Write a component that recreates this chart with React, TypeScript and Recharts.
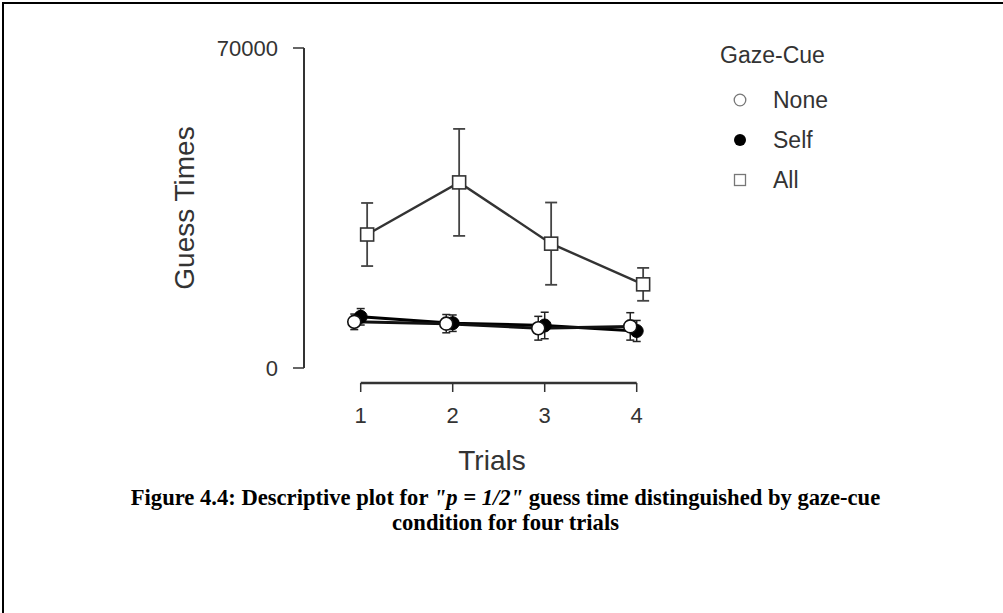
import { ComposedChart, ErrorBar, Legend, Line, ReferenceLine, XAxis, YAxis } from "recharts";

const trials = [1, 2, 3, 4];
const yTicks = [0, 70000];

// mean guess time per trial and the half-width of its interval
const noneMeans = [10100, 9700, 8700, 9100];
const noneErrors = [1700, 2000, 2600, 3000];
const selfMeans = [11200, 9800, 9300, 8100];
const selfErrors = [1800, 1800, 2900, 2300];
const allMeans = [29200, 40600, 27200, 18300];
const allErrors = [6900, 11700, 9000, 3600];

// groups are nudged sideways around each trial so their markers don't overlap
const DODGE = 0.07;
const toPoints = (means: number[], errors: number[], shift: number) =>
  trials.map((trial, i) => ({ x: trial + shift, y: means[i], err: errors[i] }));

const noneData = toPoints(noneMeans, noneErrors, -DODGE);
const selfData = toPoints(selfMeans, selfErrors, 0);
const allData = toPoints(allMeans, allErrors, DODGE);

const SANS = "'Liberation Sans', Arial, sans-serif";
const AXIS = "#333";
const AXIS_DROP = 15; // the trial axis sits a little below the zero line
const PX_PER_TRIAL = 92;
// gap between the value axis and trial 1, and room right of trial 4
const GAP_LEFT = 56.7;
const GAP_RIGHT = 43.3;

type DotProps = { cx?: number; cy?: number; index?: number };

const OpenCircle = ({ cx, cy, index }: DotProps) =>
  cx == null || cy == null ? null : (
    <circle key={`n${index}`} cx={cx} cy={cy} r={6.5} fill="#fff" stroke="#111" strokeWidth={1.6} />
  );

const FilledCircle = ({ cx, cy, index }: DotProps) =>
  cx == null || cy == null ? null : (
    <circle key={`s${index}`} cx={cx} cy={cy} r={6.5} fill="#000" stroke="#000" strokeWidth={1} />
  );

const OpenSquare = ({ cx, cy, index }: DotProps) =>
  cx == null || cy == null ? null : (
    <rect key={`a${index}`} x={cx - 6.5} y={cy - 6.5} width={13} height={13} fill="#fff" stroke="#333" strokeWidth={1.6} />
  );

const TrialTick = ({ x, y, payload }: { x: number; y: number; payload: { value: number } }) => (
  <g>
    <line x1={x} x2={x} y1={y + AXIS_DROP} y2={y + AXIS_DROP + 9} stroke={AXIS} strokeWidth={1.5} />
    <text x={x} y={y + 55} textAnchor="middle" fontSize={22} fill="#333" fontFamily={SANS}>
      {payload.value}
    </text>
  </g>
);

const DroppedAxisLine = (props: { x1?: number; x2?: number; y1?: number }) => {
  const { x1 = 0, x2 = 0, y1 = 0 } = props;
  return <line x1={x1} x2={x2} y1={y1 + AXIS_DROP} y2={y1 + AXIS_DROP} stroke={AXIS} strokeWidth={2.6} />;
};

const legendRows = [
  { label: "None", symbol: <circle cx={7} cy={7} r={5.8} fill="#fff" stroke="#777" strokeWidth={1.3} /> },
  { label: "Self", symbol: <circle cx={7} cy={7} r={6} fill="#000" /> },
  { label: "All", symbol: <rect x={1.5} y={1.5} width={11} height={11} fill="#fff" stroke="#777" strokeWidth={1.3} /> },
];

function GazeLegend() {
  return (
    <div style={{ fontFamily: SANS, color: "#333" }}>
      <div style={{ height: 30, lineHeight: "30px", fontSize: 23, marginBottom: 10 }}>Gaze-Cue</div>
      {legendRows.map((row) => (
        <div key={row.label} style={{ height: 40, display: "flex", alignItems: "center" }}>
          <svg width={14} height={14} style={{ marginLeft: 13, marginRight: 26 }}>
            {row.symbol}
          </svg>
          <span style={{ fontSize: 23 }}>{row.label}</span>
        </div>
      ))}
    </div>
  );
}

export default function App() {
  const xMin = trials[0] - DODGE;
  const xMax = trials[trials.length - 1] + DODGE;
  return (
    <div style={{ position: "absolute", left: 0, top: 0, width: 1003, height: 613, background: "#fff" }}>
      <div
        style={{
          position: "absolute",
          left: 2,
          top: 2,
          right: 0,
          bottom: 0,
          borderTop: "2px solid #000",
          borderLeft: "2px solid #000",
        }}
      />
      <ComposedChart width={1003} height={490} margin={{ top: 48, right: 323, bottom: 7, left: 164 }}>
        <XAxis
          dataKey="x"
          type="number"
          domain={[xMin, xMax]}
          ticks={trials}
          padding={{ left: GAP_LEFT - DODGE * PX_PER_TRIAL, right: GAP_RIGHT - DODGE * PX_PER_TRIAL }}
          height={115}
          axisLine={false}
          tickLine={false}
          tickSize={0}
          tickMargin={0}
          tick={TrialTick}
          label={{ value: "Trials", position: "insideTop", offset: 82, fontSize: 28, fill: "#333", fontFamily: SANS }}
        />
        <YAxis
          type="number"
          domain={[0, 70000]}
          ticks={yTicks}
          width={140}
          axisLine={{ stroke: AXIS, strokeWidth: 2 }}
          tickLine={{ stroke: AXIS, strokeWidth: 1.5 }}
          tickSize={11}
          tickMargin={15}
          tick={{ fontSize: 22, fill: "#333", fontFamily: SANS }}
          label={{
            value: "Guess Times",
            angle: -90,
            position: "insideLeft",
            offset: 20,
            fontSize: 28,
            fill: "#333",
            fontFamily: SANS,
            style: { textAnchor: "middle" },
          }}
        />
        <ReferenceLine
          segment={[
            { x: trials[0], y: 0 },
            { x: trials[trials.length - 1], y: 0 },
          ]}
          shape={DroppedAxisLine}
        />
        <Legend
          layout="vertical"
          align="center"
          verticalAlign="middle"
          content={() => <GazeLegend />}
          wrapperStyle={{ position: "absolute", left: 720, top: 40, width: 160 }}
        />
        <Line
          data={allData}
          dataKey="y"
          name="All"
          stroke="#333"
          strokeWidth={2.4}
          dot={OpenSquare}
          activeDot={false}
          isAnimationActive={false}
        >
          <ErrorBar dataKey="err" direction="y" width={6} stroke="#444" strokeWidth={1.8} isAnimationActive={false} />
        </Line>
        <Line
          data={selfData}
          dataKey="y"
          name="Self"
          stroke="#000"
          strokeWidth={3}
          dot={FilledCircle}
          activeDot={false}
          isAnimationActive={false}
        >
          <ErrorBar dataKey="err" direction="y" width={4} stroke="#222" strokeWidth={1.5} isAnimationActive={false} />
        </Line>
        <Line
          data={noneData}
          dataKey="y"
          name="None"
          stroke="#111"
          strokeWidth={3}
          dot={OpenCircle}
          activeDot={false}
          isAnimationActive={false}
        >
          <ErrorBar dataKey="err" direction="y" width={4} stroke="#222" strokeWidth={1.5} isAnimationActive={false} />
        </Line>
      </ComposedChart>
      <div
        style={{
          position: "absolute",
          left: 0,
          top: 485,
          width: 1011,
          textAlign: "center",
          fontFamily: "'Liberation Serif', 'Times New Roman', serif",
          fontWeight: "bold",
          fontSize: 22.6,
          lineHeight: "25px",
          color: "#000",
        }}
      >
        Figure 4.4: Descriptive plot for <i>"p = 1/2"</i> guess time distinguished by gaze-cue
        <br />
        condition for four trials
      </div>
    </div>
  );
}
